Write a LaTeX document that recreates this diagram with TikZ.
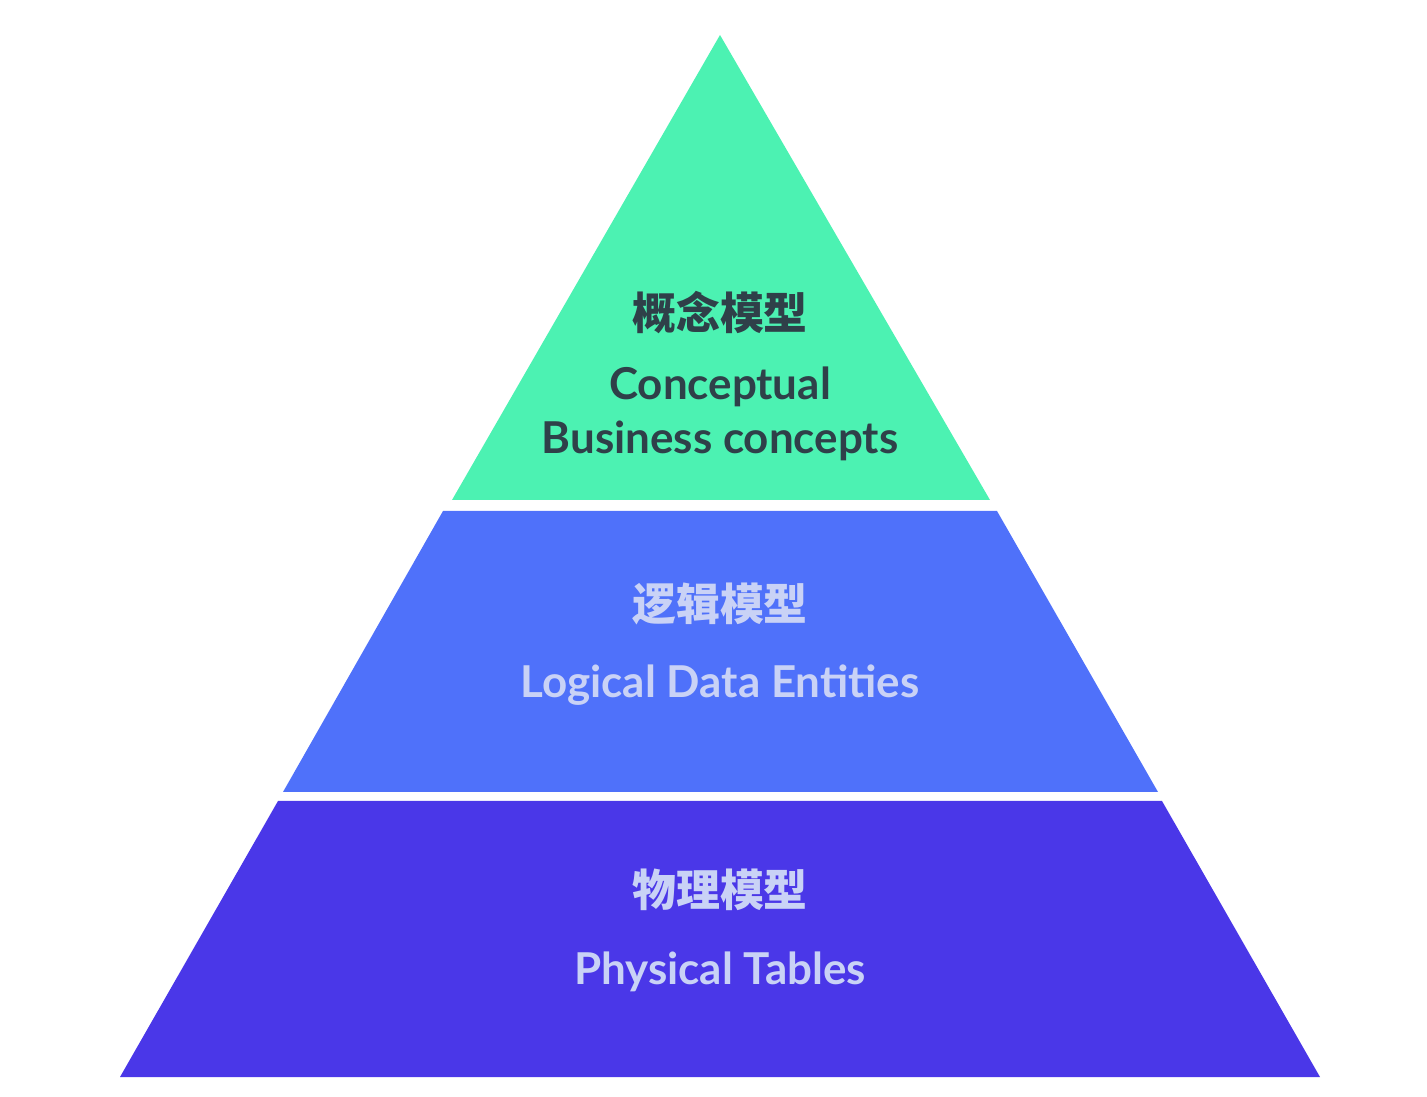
\documentclass[tikz,border=0pt]{standalone}
\usepackage{fontspec}
\setmainfont{Lato}
\newfontfamily\cjk{Noto Sans CJK SC}
\definecolor{tierTop}{HTML}{4CF2B2}
\definecolor{tierMid}{HTML}{4F71FA}
\definecolor{tierLow}{HTML}{4A37E8}
\definecolor{darkText}{HTML}{2F4049}
\definecolor{lightText}{HTML}{C9D2F6}
\tikzset{
  zh/.style={font=\cjk\bfseries\fontsize{25}{30}\selectfont},
  en/.style={font=\bfseries\fontsize{25}{30}\selectfont},
}
\begin{document}
\begin{tikzpicture}[x=0.02cm,y=-0.02cm]
\useasboundingbox (0,0) rectangle (1427,1097);
%tiers
\fill[tierTop] (720,35) -- (990,500) -- (452,500) -- cycle;
\fill[tierMid] (443,511) -- (997,511) -- (1158,792) -- (283,792) -- cycle;
\fill[tierLow] (278,801) -- (1162,801) -- (1320,1077) -- (120,1077) -- cycle;
%labels
\node[zh, text=darkText] (t1) at (720,313) {概念模型};
\node[en, text=darkText] (t2) at (720,387) {Conceptual};
\node[en, text=darkText] (t3) at (720,441) {Business concepts};
\node[zh, text=lightText] (m1) at (720,604) {逻辑模型};
\node[en, text=lightText] (m2) at (720,685) {Logical Data Entities};
\node[zh, text=lightText] (b1) at (720,890) {物理模型};
\node[en, text=lightText] (b2) at (720,972) {Physical Tables};
\end{tikzpicture}
\end{document}
